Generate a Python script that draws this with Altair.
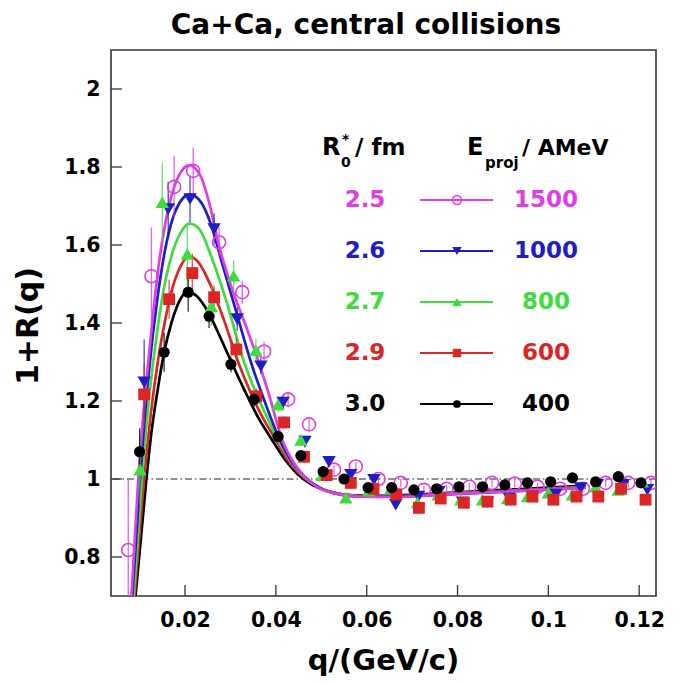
import altair as alt
import pandas as pd

# ---------------- data ----------------
x_ticks = [0.02, 0.04, 0.06, 0.08, 0.10, 0.12]
y_ticks = [0.8, 1.0, 1.2, 1.4, 1.6, 1.8, 2.0]
ref_level = [1.0]

r0_labels = ["2.5", "2.6", "2.7", "2.9", "3.0"]
energy_labels = ["1500", "1000", "800", "600", "400"]

# fitted curves
curve_q_mag = [0.0082, 0.0097, 0.0120, 0.0143, 0.0163, 0.0185, 0.0210, 0.0235, 0.0255, 0.0273, 0.0300, 0.0341, 0.0365, 0.0389, 0.0411, 0.0435, 0.0460, 0.0490, 0.0530, 0.0580, 0.0650, 0.0800, 0.0950, 0.1082]
curve_y_mag = [0.70, 1.00, 1.31, 1.556, 1.692, 1.775, 1.805, 1.775, 1.70, 1.607, 1.50, 1.37, 1.29, 1.20, 1.11, 1.05, 1.01, 0.98, 0.963, 0.955, 0.954, 0.962, 0.970, 0.977]

curve_q_blu = [0.0084, 0.0101, 0.0120, 0.0140, 0.0160, 0.0180, 0.0210, 0.0235, 0.0258, 0.0280, 0.0310, 0.0345, 0.0375, 0.0405, 0.0432, 0.0460, 0.0490, 0.0530, 0.0580, 0.0650, 0.0800, 0.0950, 0.1082]
curve_y_blu = [0.70, 1.00, 1.27, 1.47, 1.61, 1.69, 1.73, 1.71, 1.65, 1.56, 1.44, 1.30, 1.20, 1.11, 1.05, 1.01, 0.982, 0.963, 0.955, 0.955, 0.962, 0.970, 0.978]

curve_q_grn = [0.0087, 0.0105, 0.0122, 0.0140, 0.0157, 0.0175, 0.0192, 0.0210, 0.0232, 0.0258, 0.0290, 0.0330, 0.0360, 0.0380, 0.0400, 0.0430, 0.0458, 0.0488, 0.0528, 0.0578, 0.0645, 0.0800, 0.0950, 0.1082]
curve_y_grn = [0.70, 1.00, 1.22, 1.39, 1.51, 1.59, 1.635, 1.655, 1.64, 1.57, 1.46, 1.30, 1.21, 1.16, 1.11, 1.05, 1.01, 0.983, 0.964, 0.956, 0.955, 0.963, 0.971, 0.979]

curve_q_red = [0.0089, 0.0110, 0.0125, 0.0140, 0.0155, 0.0170, 0.0188, 0.0208, 0.0230, 0.0255, 0.0285, 0.0317, 0.0345, 0.0370, 0.0395, 0.0425, 0.0455, 0.0485, 0.0525, 0.0575, 0.0640, 0.0800, 0.0950, 0.1082]
curve_y_red = [0.70, 1.00, 1.17, 1.30, 1.40, 1.48, 1.54, 1.57, 1.555, 1.50, 1.41, 1.30, 1.22, 1.16, 1.11, 1.05, 1.01, 0.985, 0.965, 0.957, 0.956, 0.964, 0.972, 0.980]

curve_q_blk = [0.0091, 0.0115, 0.0125, 0.0140, 0.0154, 0.0170, 0.0187, 0.0205, 0.0225, 0.0250, 0.0275, 0.0302, 0.0330, 0.0360, 0.0389, 0.0420, 0.0450, 0.0480, 0.0520, 0.0570, 0.0630, 0.0800, 0.0950, 0.1082]
curve_y_blk = [0.70, 1.00, 1.11, 1.23, 1.325, 1.40, 1.455, 1.48, 1.47, 1.43, 1.37, 1.30, 1.23, 1.16, 1.105, 1.05, 1.01, 0.985, 0.967, 0.958, 0.957, 0.966, 0.975, 0.983]

# measured points
pts_q_mag = [0.0075, 0.0126, 0.0176, 0.0218, 0.0275, 0.0326, 0.0374, 0.0427, 0.0473, 0.0528, 0.0576, 0.0626, 0.0675, 0.0726, 0.0776, 0.0826, 0.0876, 0.0926, 0.0976, 0.1026, 0.1076, 0.1126, 0.1176, 0.1226]
pts_y_mag = [0.818, 1.52, 1.749, 1.79, 1.607, 1.479, 1.327, 1.204, 1.14, 1.024, 1.032, 1.00, 0.99, 0.972, 0.975, 0.98, 0.99, 0.988, 0.98, 0.975, 0.975, 0.99, 0.99, 0.99]
pts_e_mag = [0.18, 0.125, 0.08, 0.06, 0.04, 0.03, 0.025, 0.02, 0.015, 0.012, 0.012, 0.01, 0.01, 0.01, 0.01, 0.01, 0.01, 0.01, 0.01, 0.01, 0.01, 0.01, 0.01, 0.01]

pts_q_blu = [0.0110, 0.0163, 0.0211, 0.0264, 0.0315, 0.0367, 0.0416, 0.0464, 0.0517, 0.0565, 0.0616, 0.0664, 0.0714, 0.0759, 0.0811, 0.0866, 0.0914, 0.0965, 0.1016, 0.1071, 0.1108, 0.1165, 0.1218]
pts_y_blu = [1.248, 1.692, 1.718, 1.641, 1.41, 1.289, 1.196, 1.096, 1.044, 1.011, 0.998, 0.934, 0.955, 0.967, 0.94, 0.94, 0.95, 0.955, 0.96, 0.977, 0.985, 0.985, 0.972]
pts_e_blu = [0.11, 0.07, 0.06, 0.04, 0.03, 0.02, 0.02, 0.015, 0.012, 0.01, 0.01, 0.01, 0.01, 0.01, 0.01, 0.01, 0.01, 0.01, 0.01, 0.01, 0.01, 0.01, 0.01]

pts_q_grn = [0.0101, 0.0150, 0.0205, 0.0258, 0.0307, 0.0356, 0.0405, 0.0455, 0.0502, 0.0554, 0.0604, 0.0653, 0.0712, 0.0757, 0.0807, 0.0855, 0.0910, 0.0954, 0.1000, 0.1053, 0.1104, 0.1154, 0.1207]
pts_y_grn = [1.024, 1.71, 1.577, 1.443, 1.521, 1.33, 1.191, 1.10, 1.01, 0.952, 0.97, 0.975, 0.94, 0.96, 0.947, 0.947, 0.95, 0.955, 0.965, 0.96, 0.98, 0.972, 0.993]
pts_e_grn = [0.09, 0.10, 0.08, 0.05, 0.04, 0.03, 0.02, 0.015, 0.012, 0.01, 0.01, 0.01, 0.01, 0.01, 0.01, 0.01, 0.01, 0.01, 0.01, 0.01, 0.01, 0.01, 0.01]

pts_q_red = [0.0110, 0.0165, 0.0216, 0.0264, 0.0313, 0.0357, 0.0418, 0.0462, 0.0512, 0.0565, 0.0615, 0.0665, 0.0715, 0.0763, 0.0814, 0.0866, 0.0917, 0.0965, 0.1011, 0.1062, 0.1110, 0.1160, 0.1214]
pts_y_red = [1.217, 1.461, 1.528, 1.466, 1.332, 1.212, 1.145, 1.057, 1.01, 0.99, 0.975, 0.96, 0.926, 0.95, 0.939, 0.942, 0.947, 0.955, 0.947, 0.955, 0.955, 0.975, 0.947]
pts_e_red = [0.08, 0.05, 0.05, 0.03, 0.03, 0.02, 0.015, 0.012, 0.01, 0.01, 0.01, 0.01, 0.01, 0.01, 0.01, 0.01, 0.01, 0.01, 0.01, 0.01, 0.01, 0.01, 0.01]

pts_q_blk = [0.0100, 0.0154, 0.0207, 0.0253, 0.0301, 0.0352, 0.0405, 0.0455, 0.0504, 0.0550, 0.0603, 0.0655, 0.0704, 0.0754, 0.0803, 0.0855, 0.0904, 0.0954, 0.1005, 0.1053, 0.1104, 0.1154, 0.1204]
pts_y_blk = [1.07, 1.325, 1.479, 1.417, 1.294, 1.204, 1.109, 1.06, 1.019, 1.0, 0.978, 0.978, 0.972, 0.975, 0.98, 0.98, 0.985, 0.99, 0.993, 1.003, 0.993, 1.006, 0.99]
pts_e_blk = [0.06, 0.05, 0.05, 0.03, 0.02, 0.02, 0.015, 0.012, 0.01, 0.01, 0.01, 0.01, 0.01, 0.01, 0.01, 0.01, 0.01, 0.01, 0.01, 0.01, 0.01, 0.01, 0.01]

# ---------------- styling ----------------
FONT = "DejaVu Sans"
W, H = 545, 546
col_mag = "#DE3FE4"
col_blu = "#1E1EC4"
col_grn = "#3EDC3E"
col_red = "#DC2626"
col_blk = "#000000"

xs = alt.Scale(domain=[0.0037, 0.1237], nice=False, zero=False)
ys = alt.Scale(domain=[0.7, 2.1], nice=False, zero=False)

series = [
    dict(cq=curve_q_mag, cy=curve_y_mag, pq=pts_q_mag, py=pts_y_mag, pe=pts_e_mag, color=col_mag, shape="circle", filled=False, size=170, lsize=80),
    dict(cq=curve_q_blu, cy=curve_y_blu, pq=pts_q_blu, py=pts_y_blu, pe=pts_e_blu, color=col_blu, shape="triangle-down", filled=True, size=180, lsize=90),
    dict(cq=curve_q_grn, cy=curve_y_grn, pq=pts_q_grn, py=pts_y_grn, pe=pts_e_grn, color=col_grn, shape="triangle-up", filled=True, size=180, lsize=90),
    dict(cq=curve_q_red, cy=curve_y_red, pq=pts_q_red, py=pts_y_red, pe=pts_e_red, color=col_red, shape="square", filled=True, size=140, lsize=70),
    dict(cq=curve_q_blk, cy=curve_y_blk, pq=pts_q_blk, py=pts_y_blk, pe=pts_e_blk, color=col_blk, shape="circle", filled=True, size=125, lsize=60),
]

layers = []

# dash-dot reference line at 1
ref_df = pd.DataFrame({"y": ref_level})
layers.append(
    alt.Chart(ref_df).mark_rule(color="#222", strokeWidth=1, strokeDash=[7, 3, 1.5, 3]).encode(
        y=alt.Y("y:Q", scale=ys,
                axis=alt.Axis(values=y_ticks, format="~g", title=None, labelPadding=11)),
    )
)

# inner tick marks
xt_df = pd.DataFrame({"q": x_ticks})
yt_df = pd.DataFrame({"v": y_ticks})
layers.append(alt.Chart(xt_df).mark_rule(color="#333", strokeWidth=1.3).encode(
    x=alt.X("q:Q", scale=xs, axis=alt.Axis(values=x_ticks, format="~g", title=None, labelPadding=14)),
    y=alt.value(H), y2=alt.value(H - 11)))
layers.append(alt.Chart(yt_df).mark_rule(color="#333", strokeWidth=1.3).encode(
    y=alt.Y("v:Q", scale=ys), x=alt.value(0), x2=alt.value(11)))

# curves (black first, magenta on top)
for s in reversed(series):
    df = pd.DataFrame({"q": s["cq"], "y": s["cy"]})
    layers.append(alt.Chart(df).mark_line(color=s["color"], strokeWidth=2.7, interpolate="monotone", clip=True).encode(
        x=alt.X("q:Q", scale=xs), y=alt.Y("y:Q", scale=ys), order="q:Q"))

# error bars and points
for s in series:
    df = pd.DataFrame({"q": s["pq"], "y": s["py"], "e": s["pe"]})
    df["lo"] = df["y"] - df["e"]
    df["hi"] = df["y"] + df["e"]
    layers.append(alt.Chart(df).mark_rule(color=s["color"], strokeWidth=1.3, clip=True, opacity=0.8).encode(
        x=alt.X("q:Q", scale=xs), y=alt.Y("lo:Q", scale=ys), y2="hi:Q"))
for s in series:
    df = pd.DataFrame({"q": s["pq"], "y": s["py"]})
    if s["filled"]:
        mk = alt.Chart(df).mark_point(shape=s["shape"], filled=True, size=s["size"], color=s["color"], opacity=1, clip=True)
    else:
        mk = alt.Chart(df).mark_point(shape=s["shape"], filled=False, size=s["size"], color=s["color"], strokeWidth=1.6, opacity=1, clip=True)
    layers.append(mk.encode(x=alt.X("q:Q", scale=xs), y=alt.Y("y:Q", scale=ys)))

# ---------------- legend (drawn inside the frame) ----------------
one = pd.DataFrame({"a": [0]})
row_y0, row_dy = 150, 51
for i, s in enumerate(series):
    yy = row_y0 + row_dy * i
    layers.append(alt.Chart(one).mark_text(text=r0_labels[i], font=FONT, fontSize=23, fontWeight="bold", color=s["color"], align="center", baseline="middle").encode(
        x=alt.value(254), y=alt.value(yy)))
    layers.append(alt.Chart(one).mark_text(text=energy_labels[i], font=FONT, fontSize=23, fontWeight="bold", color=s["color"], align="center", baseline="middle").encode(
        x=alt.value(435), y=alt.value(yy)))
    layers.append(alt.Chart(one).mark_rule(color=s["color"], strokeWidth=2).encode(
        x=alt.value(309), x2=alt.value(382), y=alt.value(yy)))
    layers.append(alt.Chart(one).mark_point(shape=s["shape"], filled=s["filled"], size=s["lsize"], color=s["color"], opacity=1, strokeWidth=1.6).encode(
        x=alt.value(346), y=alt.value(yy)))

hdr = [
    ("R", 211, 98, 24),
    ("0", 230, 113, 14),
    ("*", 231, 90, 14),
    ("/ fm", 244, 98, 23),
    ("E", 356, 98, 24),
    ("proj", 374, 113, 15),
    ("/ AMeV", 411, 98, 22),
]
for t, hx, hy, fs in hdr:
    layers.append(alt.Chart(one).mark_text(text=t, font=FONT, fontSize=fs, fontWeight="bold", color="black", align="left", baseline="middle").encode(
        x=alt.value(hx), y=alt.value(hy)))

# title and axis titles
layers.append(alt.Chart(one).mark_text(text="Ca+Ca, central collisions", font=FONT, fontSize=28, fontWeight="bold", color="black", align="center", baseline="middle").encode(
    x=alt.value(255), y=alt.value(-24)))
layers.append(alt.Chart(one).mark_text(text="q/(GeV/c)", font=FONT, fontSize=29, fontWeight="bold", color="black", align="center", baseline="middle").encode(
    x=alt.value(W / 2), y=alt.value(H + 65)))
layers.append(alt.Chart(one).mark_text(text="1+R(q)", font=FONT, fontSize=30, fontWeight="bold", color="black", align="center", baseline="middle", angle=270).encode(
    x=alt.value(-82), y=alt.value(H / 2 + 3)))

chart = alt.layer(*layers).properties(
    width=W, height=H,
    autosize=alt.AutoSizeParams(type="none"),
    padding={"left": 111, "top": 50, "right": 23, "bottom": 88},
).configure(background="white").configure_view(stroke="#333", strokeWidth=1.6).configure_axis(
    grid=False, domain=False, ticks=False,
    labelFont=FONT, labelFontWeight="bold", labelFontSize=20.5, labelColor="black",
)

chart.save("out.html", embed_options={"renderer": "svg", "actions": False})
